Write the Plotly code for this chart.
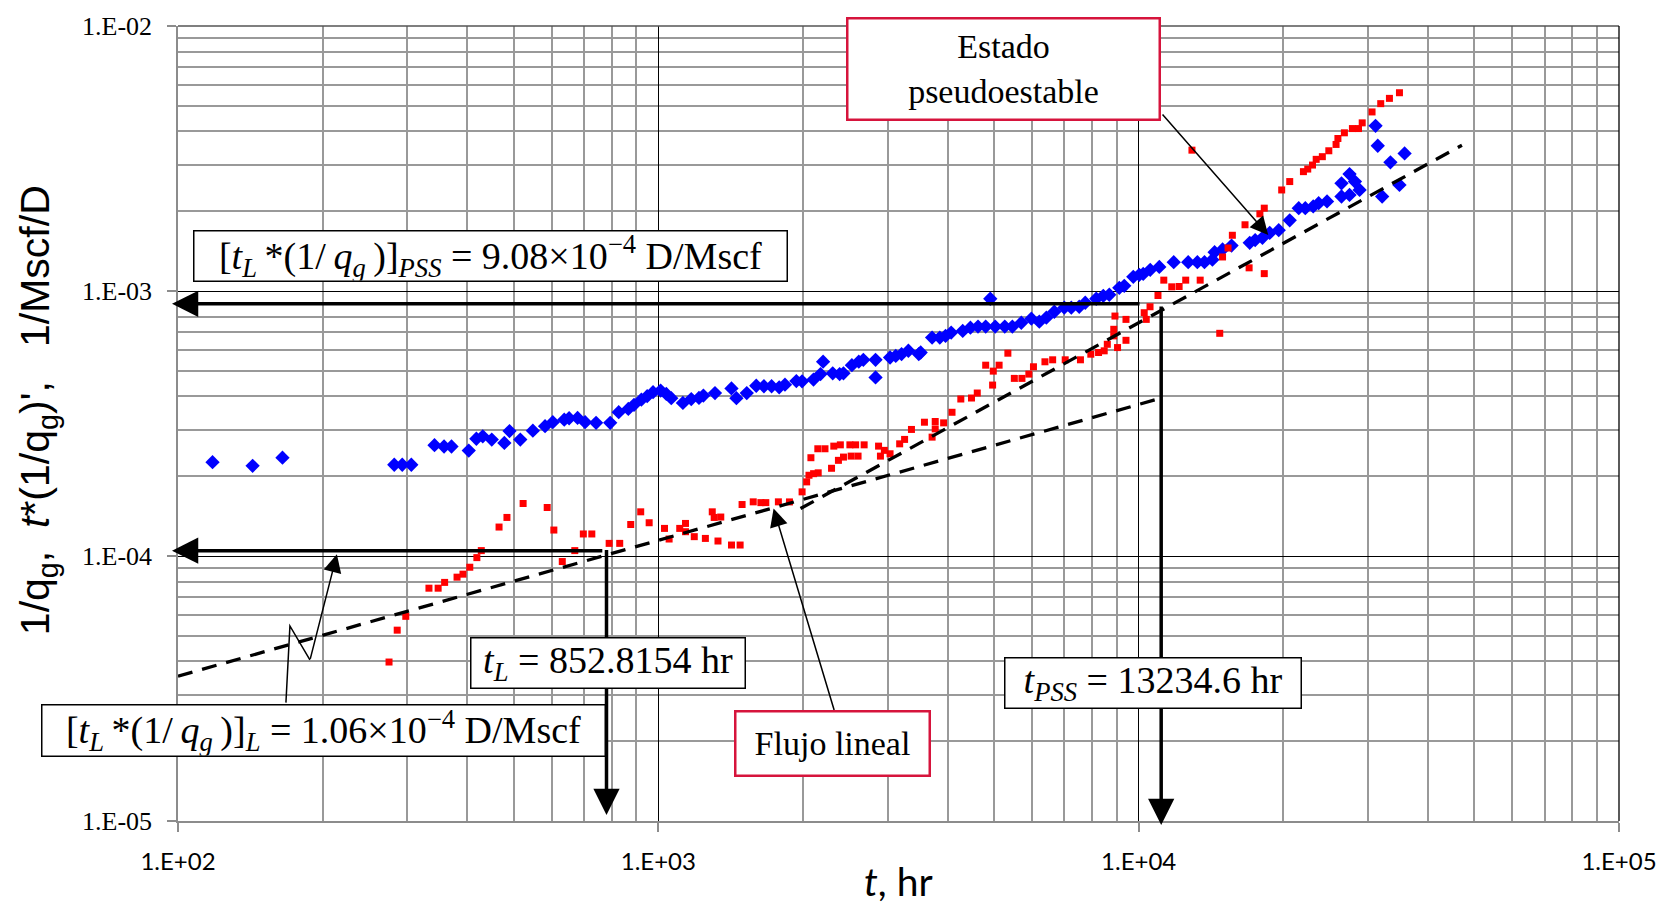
import math
import plotly.graph_objects as go

# ---------------- data ----------------
# 1/qg (blue diamonds)
t_blue = [118, 143, 165, 282, 293, 306, 342, 358, 371, 403,
          418, 431, 450, 478, 490, 516, 548, 581, 603, 637,
          652, 679, 704, 742, 794, 827, 866, 890, 922, 948,
          975, 1011, 1039, 1064, 1125, 1171, 1215, 1241, 1312, 1420,
          1454, 1528, 1599, 1659, 1721, 1785, 1835, 1938, 1992, 2104,
          2176, 2203, 2307, 2385, 2429, 2529, 2614, 2672, 2833, 2833,
          3037, 3121, 3209, 3316, 3485, 3517, 3715, 3855, 3962, 4071,
          4302, 4464, 4630, 4803, 4910, 5027, 5263, 5458, 5697, 5978,
          6211, 6424, 6674, 7001, 7240, 7521, 7741, 8161, 8440, 8686,
          9114, 9333, 9745, 10030, 10220, 10570, 11040, 11830, 12680, 13250,
          13710, 14240, 14390, 14950, 15610, 17030, 17480, 18100, 18740, 19570,
          20630, 21540, 22230, 23090, 23700, 24670, 26440, 26440, 27480, 27480,
          28200, 28840, 31130, 31460, 32130, 33430, 34910, 35780]
inv_qg = [2.26e-4, 2.19e-4, 2.35e-4, 2.21e-4, 2.21e-4, 2.21e-4, 2.62e-4, 2.59e-4, 2.59e-4, 2.50e-4,
          2.77e-4, 2.83e-4, 2.75e-4, 2.67e-4, 2.96e-4, 2.75e-4, 2.97e-4, 3.09e-4, 3.20e-4, 3.27e-4,
          3.31e-4, 3.32e-4, 3.20e-4, 3.18e-4, 3.18e-4, 3.49e-4, 3.59e-4, 3.72e-4, 3.89e-4, 4.01e-4,
          4.15e-4, 4.21e-4, 4.09e-4, 3.94e-4, 3.78e-4, 3.91e-4, 3.95e-4, 4.03e-4, 4.12e-4, 4.29e-4,
          3.94e-4, 4.12e-4, 4.39e-4, 4.37e-4, 4.37e-4, 4.33e-4, 4.43e-4, 4.57e-4, 4.56e-4, 4.63e-4,
          4.86e-4, 5.41e-4, 4.89e-4, 4.86e-4, 4.89e-4, 5.25e-4, 5.41e-4, 5.50e-4, 5.50e-4, 4.72e-4,
          5.61e-4, 5.69e-4, 5.78e-4, 5.95e-4, 5.78e-4, 5.86e-4, 6.67e-4, 6.67e-4, 6.77e-4, 6.97e-4,
          7.07e-4, 7.27e-4, 7.34e-4, 7.34e-4, 9.35e-4, 7.34e-4, 7.34e-4, 7.34e-4, 7.59e-4, 7.86e-4,
          7.66e-4, 7.93e-4, 8.35e-4, 8.65e-4, 8.65e-4, 8.72e-4, 9.03e-4, 9.35e-4, 9.59e-4, 9.68e-4,
          1.028e-3, 1.046e-3, 1.131e-3, 1.151e-3, 1.160e-3, 1.202e-3, 1.233e-3, 1.285e-3, 1.285e-3, 1.285e-3,
          1.285e-3, 1.313e-3, 1.401e-3, 1.434e-3, 1.484e-3, 1.520e-3, 1.556e-3, 1.587e-3, 1.657e-3, 1.696e-3,
          1.848e-3, 2.054e-3, 2.054e-3, 2.085e-3, 2.145e-3, 2.177e-3, 2.549e-3, 2.273e-3, 2.763e-3, 2.305e-3,
          2.588e-3, 2.406e-3, 4.200e-3, 3.532e-3, 2.273e-3, 3.058e-3, 2.513e-3, 3.305e-3]

# t*(1/qg)' (red squares)
t_red = [275, 286, 298, 333, 348, 359, 381, 392, 405, 419,
         428, 466, 484, 523, 587, 606, 631, 670, 698, 727,
         790, 831, 876, 919, 957, 1030, 1053, 1108, 1139, 1139,
         1188, 1253, 1295, 1307, 1349, 1331, 1420, 1480, 1494, 1576,
         1635, 1674, 1778, 1875, 1992, 2036, 2059, 2105, 2152, 2078,
         2148, 2223, 2319, 2393, 2294, 2371, 2429, 2520, 2605, 2505,
         2575, 2682, 2874, 2955, 2900, 3037, 3180, 3256, 3365, 3581,
         3715, 3771, 3771, 3926, 4087, 4263, 4487, 4613, 4803, 4981,
         5122, 4965, 5342, 5510, 5715, 5907, 6039, 6381, 6621, 7032,
         7565, 7950, 8250, 8477, 8604, 8875, 8875, 8926, 9037, 9410,
         9410, 10270, 10370, 10560, 10970, 11280, 11720, 12140, 12530, 13430,
         14750, 12910, 14950, 15350, 15670, 16980, 18260, 16650, 17880, 18260,
         19850, 20630, 22030, 22490, 23010, 23420, 24120, 24880, 25760, 25990,
         26810, 27860, 28690, 29200, 30610, 31910, 33270, 34910]
deriv = [3.98e-5, 5.25e-5, 5.92e-5, 7.56e-5, 7.56e-5, 7.95e-5, 8.32e-5, 8.54e-5, 9.07e-5, 9.86e-5,
         1.048e-4, 1.286e-4, 1.398e-4, 1.578e-4, 1.524e-4, 1.253e-4, 9.53e-5, 1.048e-4, 1.211e-4, 1.211e-4,
         1.116e-4, 1.116e-4, 1.315e-4, 1.468e-4, 1.335e-4, 1.271e-4, 1.159e-4, 1.271e-4, 1.327e-4, 1.235e-4,
         1.183e-4, 1.165e-4, 1.468e-4, 1.398e-4, 1.403e-4, 1.139e-4, 1.100e-4, 1.100e-4, 1.564e-4, 1.601e-4,
         1.590e-4, 1.590e-4, 1.601e-4, 1.600e-4, 1.746e-4, 1.904e-4, 2.017e-4, 2.045e-4, 2.060e-4, 2.349e-4,
         2.539e-4, 2.539e-4, 2.598e-4, 2.627e-4, 2.143e-4, 2.296e-4, 2.362e-4, 2.382e-4, 2.382e-4, 2.627e-4,
         2.627e-4, 2.627e-4, 2.598e-4, 2.504e-4, 2.382e-4, 2.431e-4, 2.650e-4, 2.754e-4, 3.003e-4, 3.198e-4,
         2.809e-4, 3.018e-4, 3.218e-4, 3.180e-4, 3.486e-4, 3.912e-4, 3.946e-4, 4.121e-4, 5.249e-4, 4.985e-4,
         5.249e-4, 4.416e-4, 5.825e-4, 4.680e-4, 4.680e-4, 4.857e-4, 5.177e-4, 5.406e-4, 5.500e-4, 5.500e-4,
         5.500e-4, 5.775e-4, 5.859e-4, 5.946e-4, 6.295e-4, 6.770e-4, 7.169e-4, 8.043e-4, 6.117e-4, 7.814e-4,
         6.516e-4, 8.280e-4, 7.814e-4, 8.720e-4, 9.618e-4, 1.099e-3, 1.037e-3, 1.040e-3, 1.099e-3, 1.099e-3,
         6.924e-4, 3.400e-3, 1.344e-3, 1.453e-3, 1.623e-3, 1.223e-3, 1.163e-3, 1.778e-3, 1.955e-3, 2.054e-3,
         2.406e-3, 2.588e-3, 2.821e-3, 2.885e-3, 2.987e-3, 3.139e-3, 3.213e-3, 3.382e-3, 3.573e-3, 3.763e-3,
         3.953e-3, 4.102e-3, 4.102e-3, 4.310e-3, 4.739e-3, 5.093e-3, 5.332e-3, 5.600e-3]

# straight-line fits (half slope: linear flow, unit slope: pseudo-steady state)
half_t = [100, 10900]
half_v = [3.52e-5, 3.90e-4]
unit_t = [1977, 47100]
unit_v = [1.51e-4, 3.55e-3]

# characteristic values marked with arrows
t_L_mark = 780
v_L = 1.047e-4
t_PSS_mark = 11140
v_PSS = 8.95e-4

x_tick_vals = [1e2, 1e3, 1e4, 1e5]
x_tick_text = ["1.E+02", "1.E+03", "1.E+04", "1.E+05"]
y_tick_vals = [1e-5, 1e-4, 1e-3, 1e-2]
y_tick_text = ["1.E-05", "1.E-04", "1.E-03", "1.E-02"]

# ---------------- layout geometry ----------------
W, H = 1669, 909
ML, MR, MT, MB = 178, 49, 22, 88
PW, PH = W - ML - MR, H - MT - MB


def px(X):
    return (X - ML) / PW


def py(Y):
    return (MT + PH - Y) / PH


fig = go.Figure()
fig.add_trace(go.Scatter(x=t_blue, y=inv_qg, mode="markers",
                         marker=dict(symbol="diamond", size=11, color="#0000FF"),
                         showlegend=False, hoverinfo="skip"))
fig.add_trace(go.Scatter(x=t_red, y=deriv, mode="markers",
                         marker=dict(symbol="square", size=7, color="#FF0000"),
                         showlegend=False, hoverinfo="skip"))
for xs, ys in ((half_t, half_v), (unit_t, unit_v)):
    fig.add_trace(go.Scatter(x=xs, y=ys, mode="lines",
                             line=dict(color="black", width=3.3, dash="15px,10px"),
                             showlegend=False, hoverinfo="skip"))

x_minor = [m * 10 ** e for e in range(2, 5) for m in range(2, 10)]
y_minor = [m * 10.0 ** e for e in range(-5, -2) for m in range(2, 10)]

axis_common = dict(type="log", showgrid=True, gridcolor="black", gridwidth=1,
                   showline=True, linecolor="#8C8C8C", linewidth=1.5,
                   ticks="outside", ticklen=9, tickcolor="#8C8C8C", tickwidth=1.5,
                   zeroline=False, tickmode="array")

fig.update_xaxes(range=[2, 5], tickvals=x_tick_vals, ticktext=x_tick_text,
                 tickfont=dict(family="Lato", size=24, color="black"),
                 ticklabelstandoff=9,
                 minor=dict(tickmode="array", tickvals=x_minor, showgrid=True,
                            gridcolor="#999999", gridwidth=1.5, ticks=""),
                 **axis_common)
fig.update_yaxes(range=[-5, -2], tickvals=y_tick_vals, ticktext=y_tick_text,
                 tickfont=dict(family="Liberation Serif", size=26, color="black"),
                 ticklabelstandoff=10,
                 minor=dict(tickmode="array", tickvals=y_minor, showgrid=True,
                            gridcolor="#999999", gridwidth=1.5, ticks=""),
                 **axis_common)

shapes = [
    dict(type="line", xref="paper", yref="paper", x0=0, x1=1, y0=1, y1=1,
         line=dict(color="#555555", width=1.5)),
    dict(type="line", xref="paper", yref="paper", x0=1, x1=1, y0=0, y1=1,
         line=dict(color="black", width=1.3)),
    # zig-zag pointer (non-arrow part)
    dict(type="path", xref="paper", yref="paper",
         path=f"M {px(286)} {py(702)} L {px(290)} {py(625)} L {px(310)} {py(659)}",
         line=dict(color="black", width=1.5)),
]

ann = []
serif = "Liberation Serif"


def arrow(tipX, tipY, tailX, tailY, width, size):
    return dict(x=px(tipX), y=py(tipY), xref="paper", yref="paper",
                ax=tailX - tipX, ay=tailY - tipY, axref="pixel", ayref="pixel",
                text="", showarrow=True, arrowhead=2, arrowsize=size,
                arrowwidth=width, arrowcolor="black")


yPSS = MT + PH * (-2 - math.log10(v_PSS)) / 3
yL = MT + PH * (-2 - math.log10(v_L)) / 3
xL = ML + PW * (math.log10(t_L_mark) - 2) / 3
xP = ML + PW * (math.log10(t_PSS_mark) - 2) / 3
ann.append(arrow(172, yPSS, 1141, yPSS, 3.5, 1.5))
ann.append(arrow(xP, 825, xP, 305, 3.5, 1.5))
ann.append(arrow(172, yL, xL - 3, yL, 3.5, 1.5))
ann.append(arrow(xL, 815, xL, yL - 1, 3.5, 1.5))
ann.append(arrow(774, 507, 835, 710, 1.5, 2.4))
ann.append(arrow(1269, 232, 1162, 110, 1.5, 2.4))
ann.append(arrow(337, 553, 310, 659, 1.5, 2.4))


def box(cx, cy, w, h, text, color="black", bw=1.5, size=34):
    return dict(x=px(cx), y=py(cy), xref="paper", yref="paper", xanchor="center", yanchor="middle",
                text=text, showarrow=False, width=w, height=h, align="center", valign="middle",
                bordercolor=color, borderwidth=bw, borderpad=0, bgcolor="white",
                font=dict(family=serif, size=size, color="black"))


def it(s):
    return f"<i>{s}</i>"


MS = 38
ann.append(box(490.5, 253, 592, 49,
               "[" + it("t") + "<sub>" + it("L") + "</sub>\u2009*(1/\u2009" + it("q") + "<sub>" + it("g") +
               "</sub>\u2009)]<sub>" + it("PSS") + "</sub> = 9.08×10<sup>−4</sup> D/Mscf", size=MS))
ann.append(box(608, 662, 273, 49, it("t") + "<sub>" + it("L") + "</sub> = 852.8154 hr", size=MS))
ann.append(box(323.5, 730.5, 562, 50,
               "[" + it("t") + "<sub>" + it("L") + "</sub>\u2009*(1/\u2009" + it("q") + "<sub>" + it("g") +
               "</sub>\u2009)]<sub>" + it("L") + "</sub> = 1.06×10<sup>−4</sup> D/Mscf", size=MS))
ann.append(box(1154, 682, 295, 49, it("t") + "<sub>" + it("PSS") + "</sub> = 13234.6 hr", size=MS))
ann.append(box(833, 743, 192, 62, "Flujo lineal", color="#D6143C", bw=2.5, size=34))
ann.append(box(1004, 65.5, 310, 99, "Estado<br>pseudoestable", color="#D6143C", bw=2.5, size=34))

# axis titles
ann.append(dict(x=px(899), y=py(881), xref="paper", yref="paper", xanchor="center", yanchor="middle",
                text="<i>t</i>, hr", showarrow=False,
                font=dict(family="Lato", size=39, color="black")))
ann.append(dict(x=px(38), y=py(408), xref="paper", yref="paper", xanchor="center", yanchor="middle",
                text="1/q<sub>g</sub>,\u00a0 <i>t</i>*(1/q<sub>g</sub>)',\u00a0\u00a0 1/Mscf/D",
                textangle=-90, showarrow=False,
                font=dict(family="Liberation Sans", size=41, color="black")))

fig.update_layout(width=W, height=H, margin=dict(l=ML, r=MR, t=MT, b=MB),
                  paper_bgcolor="white", plot_bgcolor="white",
                  shapes=shapes, annotations=ann, showlegend=False)

fig.write_html("out.html")
